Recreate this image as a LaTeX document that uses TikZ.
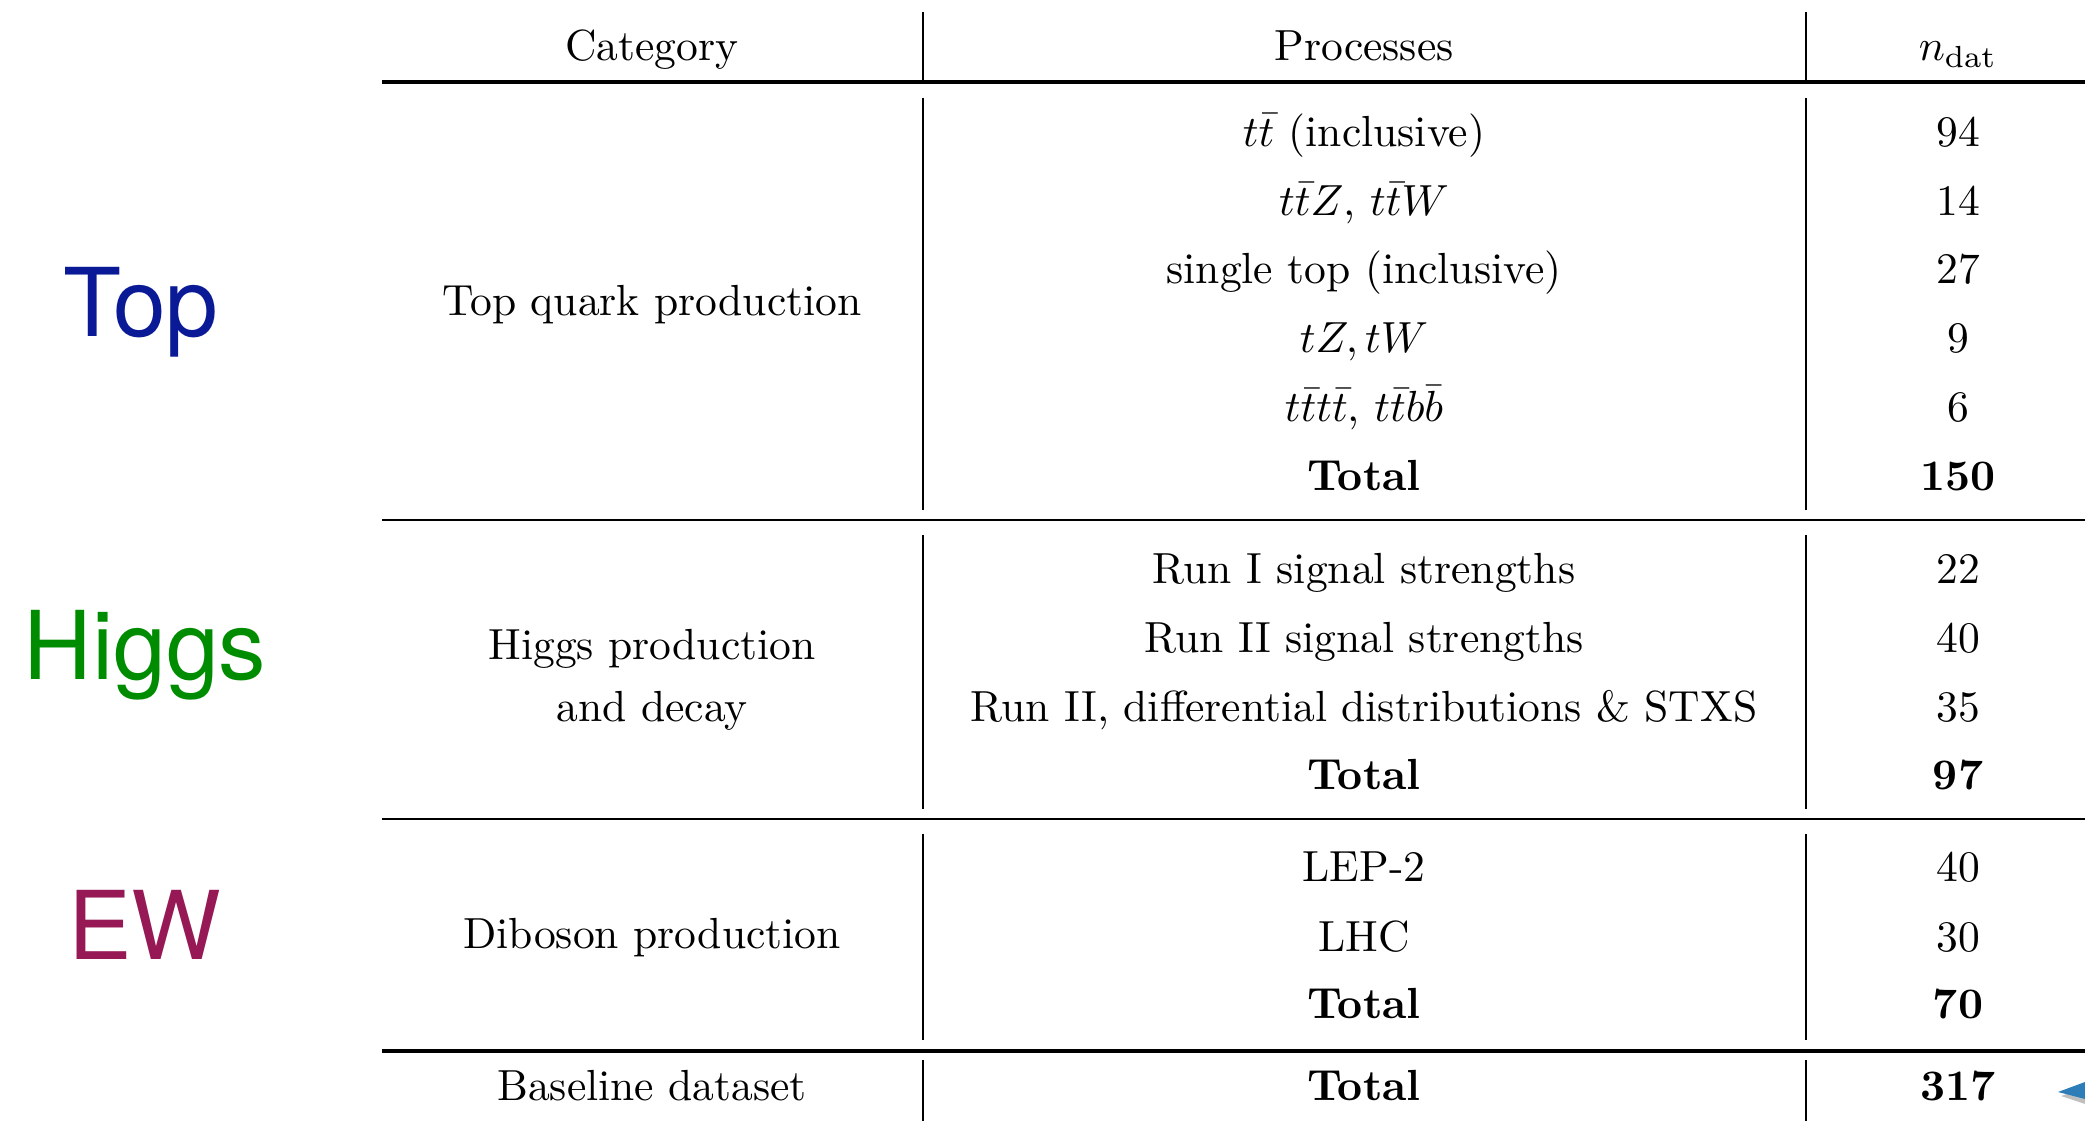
\documentclass[tikz,border=0pt]{standalone}
\usepackage{fontspec}
\usepackage{amsmath}
\usetikzlibrary{positioning}
\newfontfamily\tagfont{TeX Gyre Heros}
\definecolor{topblue}{RGB}{10,25,150}
\definecolor{higgsgreen}{RGB}{0,140,0}
\definecolor{ewred}{RGB}{150,25,85}
\definecolor{tipblue}{RGB}{45,125,185}

\begin{document}
\begin{tikzpicture}[x=0.2296pt, y=-0.2296pt,
    cell/.style={anchor=base, inner sep=0pt},
    tag/.style={anchor=base, inner sep=0pt, font=\tagfont\fontsize{21.8}{26}\selectfont},
    thinrule/.style={line width=0.55pt},
    heavyrule/.style={line width=1pt},
    colrule/.style={line width=0.45pt}]
    \useasboundingbox (0,0) rectangle (2085,1127);

    % Header
    \node[cell] (hcat) at (652,61) {Category};
    \node[cell] (hproc) at (1364,61) {Processes};
    \node[cell] (hndat) at (1958,61) {$n_{\rm dat}$};

    % Top block
    \node[cell] (cattop) at (652,316) {Top quark production};
    \foreach \y/\proc/\num [count=\i] in {147/{$t\bar{t}$ (inclusive)}/94, 216/{$t\bar{t}Z$, $t\bar{t}W$}/14,
        284/{single top (inclusive)}/27, 353/{$tZ, tW$}/9, 422/{$t\bar{t}t\bar{t}$, $t\bar{t}b\bar{b}$}/6} {
        \node[cell] (proctop\i) at (1364,\y) {\proc};
        \node[cell] (ntop\i) at (1958,\y) {\num};
    }
    \node[cell] (totaltop) at (1364,491) {\bfseries Total};
    \node[cell] (ntotaltop) at (1958,491) {\bfseries 150};

    % Higgs block
    \node[cell] (cathiggs) at (652,660) {Higgs production};
    \node[cell] (cathiggsb) at (652,721) {and decay};
    \foreach \y/\proc/\num [count=\i] in {584/{Run I signal strengths}/22, 653/{Run II signal strengths}/40,
        721/{Run II, differential distributions \& STXS}/35} {
        \node[cell] (prochiggs\i) at (1364,\y) {\proc};
        \node[cell] (nhiggs\i) at (1958,\y) {\num};
    }
    \node[cell] (totalhiggs) at (1364,790) {\bfseries Total};
    \node[cell] (ntotalhiggs) at (1958,790) {\bfseries 97};

    % EW block
    \node[cell] (catew) at (652,949) {Diboson production};
    \node[cell] (procew1) at (1364,882) {LEP-2};
    \node[cell] (new1) at (1958,882) {40};
    \node[cell] (procew2) at (1364,951) {LHC};
    \node[cell] (new2) at (1958,951) {30};
    \node[cell] (totalew) at (1364,1019) {\bfseries Total};
    \node[cell] (ntotalew) at (1958,1019) {\bfseries 70};

    % Baseline row
    \node[cell] (catbase) at (652,1101) {Baseline dataset};
    \node[cell] (totalbase) at (1364,1101) {\bfseries Total};
    \node[cell] (ntotalbase) at (1958,1101) {\bfseries 317};

    % Rules
    \draw[heavyrule] (382,82) -- (2085,82);
    \draw[thinrule] (382,520) -- (2085,520);
    \draw[thinrule] (382,819) -- (2085,819);
    \draw[heavyrule] (382,1051) -- (2085,1051);

    % Column separators
    \foreach \x in {923,1806} {
        \foreach \ya/\yb in {12/82, 98/510, 535/809, 834/1040, 1060/1121}
            \draw[colrule] (\x,\ya) -- (\x,\yb);
    }

    % Sector tags
    \node[tag, text=topblue] (tagtop) at (141,337) {Top};
    \node[tag, text=higgsgreen] (taghiggs) at (145,680) {Higgs};
    \node[tag, text=ewred] (tagew) at (145,960) {EW};

    % Pointer tip
    \fill[black!25] (2061,1096) -- (2085,1088) -- (2085,1104) -- cycle;
    \fill[tipblue] (2058,1092) -- (2085,1082) -- (2085,1099) -- cycle;
\end{tikzpicture}
\end{document}
